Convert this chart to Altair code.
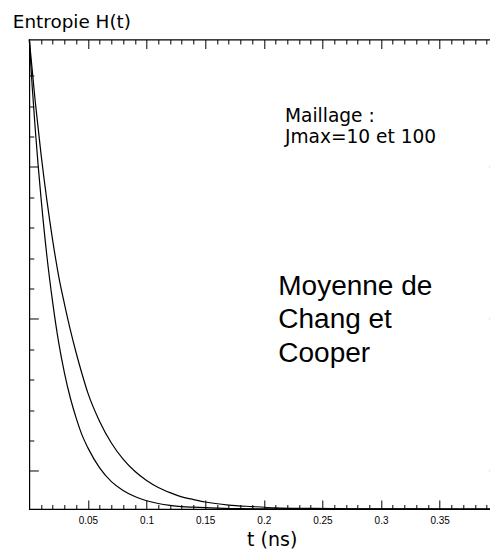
import altair as alt
import pandas as pd

# Two decay curves, arbitrary vertical units (ticks every 1 unit)
t_jmax10 = [0.0, 0.0025, 0.005, 0.0075, 0.01, 0.015, 0.02, 0.025, 0.03, 0.035, 0.04, 0.045, 0.05,
            0.06, 0.07, 0.08, 0.09, 0.10, 0.11, 0.12, 0.13, 0.14, 0.16, 0.18, 0.21, 0.25, 0.4]
h_jmax10 = [14.19, 12.63, 11.28, 10.07, 8.98, 7.07, 5.53, 4.24, 3.22, 2.40, 1.74, 1.18, 0.76,
            0.10, -0.35, -0.64, -0.84, -0.98, -1.07, -1.13, -1.17, -1.19, -1.22, -1.24, -1.247, -1.25, -1.25]
t_jmax100 = [0.0, 0.005, 0.01, 0.015, 0.02, 0.025, 0.03, 0.035, 0.04, 0.045, 0.05, 0.06, 0.07, 0.08,
             0.09, 0.10, 0.11, 0.12, 0.13, 0.14, 0.15, 0.17, 0.19, 0.21, 0.24, 0.28, 0.33, 0.4]
h_jmax100 = [14.19, 12.17, 10.42, 8.90, 7.57, 6.42, 5.49, 4.64, 3.88, 3.19, 2.56, 1.63, 0.92, 0.39,
             -0.01, -0.31, -0.54, -0.71, -0.85, -0.94, -1.02, -1.12, -1.17, -1.21, -1.23, -1.244, -1.248, -1.25]

x_label_values = [0.05, 0.1, 0.15, 0.2, 0.25, 0.3, 0.35]
x_tick_values = [round(0.01 * i, 2) for i in range(1, 40)]
y_tick_values = list(range(0, 14))

note_small = ["Maillage :\nJmax=10 et 100"]
note_big = ["Moyenne de\nChang et\nCooper"]
x_title = "t (ns)"
y_title = "Entropie H(t)"

FONT = "Liberation Sans"
FONT_WIDE = "DejaVu Sans"
W, H = 469, 469.5

df = pd.concat([
    pd.DataFrame({"t": t_jmax10, "H": h_jmax10, "series": "Jmax=10"}),
    pd.DataFrame({"t": t_jmax100, "H": h_jmax100, "series": "Jmax=100"}),
])

xscale = alt.Scale(domain=[0, 0.4], nice=False, zero=False)
yscale = alt.Scale(domain=[-1.25, 14.19], nice=False, zero=False)

x_major = {"condition": {"test": "round(datum.value * 100) % 5 == 0", "value": 9}, "value": 4.5}
y_major = {"condition": {"test": "datum.value % 5 == 0", "value": 9}, "value": 4.5}

tick_common = dict(domain=False, labels=False, grid=False, tickColor="black", tickWidth=1, title=None)

# bottom axis: labels + title only
ax_bottom_labels = alt.Axis(orient="bottom", values=x_label_values, ticks=False, domain=False, grid=False,
                            labelPadding=7, labelFontSize=10, labelFont=FONT, labelColor="black",
                            format=".2~f", title=x_title, titleFont=FONT_WIDE, titleFontSize=19,
                            titleFontWeight="normal", titleColor="black", titleX=242.4, titleY=37,
                            titleAlign="center", titleBaseline="alphabetic")
# inward ticks on bottom edge (top-oriented axis moved to bottom)
ax_bottom_ticks = alt.Axis(orient="top", offset=-H, values=x_tick_values, tickSize=x_major, **tick_common)
# inward ticks on top edge
ax_top_ticks = alt.Axis(orient="bottom", offset=-H, values=x_tick_values, tickSize=x_major, **tick_common)
# inward ticks on left edge + title
ax_left_ticks = alt.Axis(orient="right", offset=-W, values=y_tick_values, tickSize=y_major,
                         domain=False, labels=False, grid=False, tickColor="black", tickWidth=1,
                         title=y_title, titleAngle=0, titleX=-17, titleY=-12.3, titleAlign="left",
                         titleBaseline="alphabetic", titleFont=FONT_WIDE, titleFontSize=18.4,
                         titleFontWeight="normal", titleColor="black")
# inward ticks on right edge
ax_right_ticks = alt.Axis(orient="left", offset=-W, values=y_tick_values, tickSize=y_major, **tick_common)

lines = alt.Chart(df).mark_line(color="black", strokeWidth=1.2, interpolate="monotone").encode(
    x=alt.X("t:Q", scale=xscale, axis=ax_bottom_labels),
    y=alt.Y("H:Q", scale=yscale, axis=ax_left_ticks),
    detail="series:N",
)
ghost1 = alt.Chart(df).mark_line(opacity=0).encode(
    x=alt.X("t:Q", scale=xscale, axis=ax_bottom_ticks),
    y=alt.Y("H:Q", scale=yscale, axis=ax_right_ticks),
    detail="series:N",
)
ghost2 = alt.Chart(df).mark_line(opacity=0).encode(
    x=alt.X("t:Q", scale=xscale, axis=ax_top_ticks),
    y=alt.Y("H:Q", scale=yscale, axis=None),
    detail="series:N",
)

txt_small = alt.Chart(pd.DataFrame({"label": note_small})).mark_text(
    align="left", baseline="alphabetic", font=FONT_WIDE, fontSize=18.6, lineBreak="\n", lineHeight=21, color="black"
).encode(x=alt.value(255.7), y=alt.value(82.8), text="label:N")

txt_big = alt.Chart(pd.DataFrame({"label": note_big})).mark_text(
    align="left", baseline="alphabetic", font=FONT, fontSize=28, lineBreak="\n", lineHeight=33.3, color="black"
).encode(x=alt.value(249), y=alt.value(255.5), text="label:N")

chart = alt.layer(lines, ghost1, ghost2, txt_small, txt_big).resolve_axis(
    x="independent", y="independent"
).properties(
    width=W, height=H,
    autosize=alt.AutoSizeParams(type="none"),
    padding={"left": 21.3, "top": 31.5, "right": -8.5, "bottom": 42},
).configure_view(stroke="black", strokeWidth=1.2)

chart.save("out.html", embed_options={"renderer": "svg", "actions": False})
